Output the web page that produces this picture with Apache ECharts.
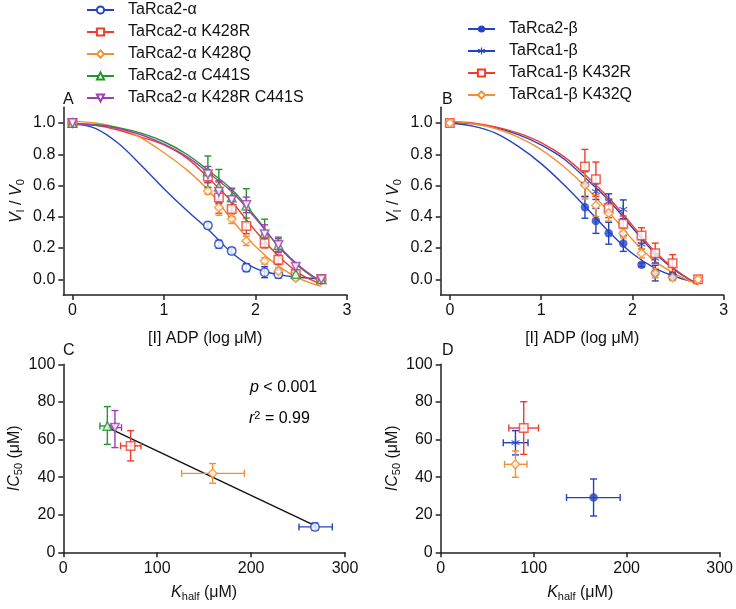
<!DOCTYPE html>
<html><head><meta charset="utf-8">
<script src="https://cdn.jsdelivr.net/npm/echarts@6/dist/echarts.min.js"></script>
<style>html,body{margin:0;padding:0;background:#fff}#c{width:736px;height:609px}</style>
</head><body><div id="c"></div>
<script>
// ---------------- data ----------------
const xTicksAB = [0, 1, 2, 3];
const yTicksAB = [0, 0.2, 0.4, 0.6, 0.8, 1.0];
const logADP = [0, 1.48, 1.6, 1.74, 1.9, 2.1, 2.25, 2.44, 2.72];

// Panel A (TaRca2-alpha variants): mean and SE
const aWT      = [1.0, 0.344, 0.225, 0.182, 0.075, 0.046, 0.033, 0.02, 0.0];
const aWTErr   = [0, 0.02, 0.025, 0.02, 0.025, 0.035, 0.025, 0.01, 0.01];
const aK428R   = [1.0, 0.657, 0.523, 0.45, 0.342, 0.231, 0.125, 0.035, 0.0];
const aK428RErr= [0, 0.04, 0.1, 0.05, 0.05, 0.03, 0.03, 0.01, 0.01];
const aK428Q   = [1.0, 0.565, 0.46, 0.387, 0.246, 0.118, 0.054, 0.008, 0.0];
const aK428QErr= [0, 0.02, 0.05, 0.03, 0.03, 0.02, 0.02, 0.01, 0.01];
const aC441S   = [1.0, 0.689, 0.593, 0.523, 0.47, 0.295, 0.22, 0.035, 0.0];
const aC441SErr= [0, 0.1, 0.11, 0.06, 0.11, 0.09, 0.04, 0.02, 0.01];
const aRS      = [1.0, 0.672, 0.56, 0.508, 0.476, 0.289, 0.22, 0.08, 0.0];
const aRSErr   = [0, 0.05, 0.07, 0.07, 0.05, 0.06, 0.05, 0.02, 0.01];

// Panel B (beta isoforms)
const b2WT     = [1.0, 0.461, 0.374, 0.295, 0.229, 0.093, 0.04, 0.02, 0.0];
const b2WTErr  = [0, 0.07, 0.08, 0.07, 0.05, 0.012, 0.05, 0.02, 0.01];
const b1WT     = [1.0, 0.608, 0.561, 0.497, 0.448, 0.225, 0.135, 0.02, 0.0];
const b1WTErr  = [0, 0.08, 0.05, 0.05, 0.06, 0.03, 0.03, 0.02, 0.01];
const b1K432R  = [1.0, 0.721, 0.64, 0.455, 0.355, 0.28, 0.167, 0.103, 0.0];
const b1K432RErr=[0, 0.11, 0.11, 0.06, 0.05, 0.05, 0.065, 0.055, 0.02];
const b1K432Q  = [1.0, 0.604, 0.472, 0.423, 0.295, 0.167, 0.04, 0.012, 0.0];
const b1K432QErr=[0, 0.09, 0.07, 0.05, 0.03, 0.03, 0.03, 0.02, 0.01];

// fitted curves
const curveX   = [0, 0.25, 0.5, 0.75, 1.0, 1.25, 1.5, 1.75, 2.0, 2.25, 2.5, 2.72];
const aWTFit   = [1.0, 0.965, 0.87, 0.73, 0.58, 0.44, 0.31, 0.165, 0.07, 0.03, 0.012, 0.004];
const aK428RFit= [0.995, 0.985, 0.955, 0.91, 0.86, 0.775, 0.64, 0.49, 0.31, 0.15, 0.03, -0.03];
const aK428QFit= [1.01, 1.0, 0.97, 0.905, 0.81, 0.70, 0.56, 0.375, 0.21, 0.085, 0.0, -0.045];
const aC441SFit= [0.995, 0.99, 0.97, 0.935, 0.88, 0.80, 0.69, 0.57, 0.40, 0.21, 0.07, -0.02];
const aRSFit   = [0.99, 0.985, 0.965, 0.925, 0.865, 0.785, 0.675, 0.555, 0.39, 0.215, 0.075, -0.015];
const b2WTFit  = [1.0, 0.98, 0.935, 0.85, 0.74, 0.605, 0.455, 0.30, 0.165, 0.07, 0.012, -0.02];
const b1WTFit  = [1.005, 0.995, 0.97, 0.925, 0.86, 0.77, 0.64, 0.50, 0.33, 0.165, 0.045, -0.03];
const b1K432RFit=[1.01, 1.0, 0.975, 0.935, 0.875, 0.785, 0.66, 0.515, 0.345, 0.175, 0.05, -0.035];
const b1K432QFit=[1.01, 0.995, 0.965, 0.91, 0.83, 0.72, 0.585, 0.425, 0.255, 0.115, 0.025, -0.035];

// Panel C (order: WT, K428R, K428Q, C441S, K428R C441S)
const cKhalf   = [268, 71.7, 159, 46.9, 55];
const cKhalfLo = [251, 61, 126, 39, 49.7];
const cKhalfHi = [286.5, 82.7, 192.8, 55, 62];
const cIC50    = [13.5, 56.6, 42, 67.2, 66.3];
const cIC50Lo  = [11.7, 48.6, 36.7, 57.4, 55.7];
const cIC50Hi  = [15.6, 64.7, 47.2, 77.5, 75.4];
const regX = [46.9, 268];
const regY = [66.5, 14.2];

// Panel D (order: TaRca2-beta, TaRca1-beta, K432R, K432Q)
const dKhalf   = [164.4, 80.4, 89.3, 80.4];
const dKhalfLo = [135.3, 67.3, 73.3, 68.7];
const dKhalfHi = [193, 93.9, 105.2, 92.8];
const dIC50    = [29.1, 58.3, 66.1, 46.8];
const dIC50Lo  = [19.3, 51.8, 52.1, 39.9];
const dIC50Hi  = [39, 64.7, 80.1, 53.9];

const alphaNames = ['TaRca2-α', 'TaRca2-α K428R', 'TaRca2-α K428Q', 'TaRca2-α C441S', 'TaRca2-α K428R C441S'];
const betaNames  = ['TaRca2-β', 'TaRca1-β', 'TaRca1-β K432R', 'TaRca1-β K432Q'];

// ---------------- styling ----------------
const FF = '"Liberation Sans", Arial, Helvetica, sans-serif';
const FS = 16;
const BLUE = '#2443c4', RED = '#ee3d2c', ORANGE = '#f39132', GREEN = '#23952d', PURPLE = '#a03cb4';
const STAR = 'path://M8.5 0L11.5 0L11.5 20L8.5 20Z M17.91 16.3L19.41 13.7L2.09 3.7L0.59 6.3Z M0.59 13.7L2.09 16.3L19.41 6.3L17.91 3.7Z';
const alphaStyle = [
  {c: BLUE, sym: 'circle', rot: 0, empty: true},
  {c: RED, sym: 'rect', rot: 0, empty: true},
  {c: ORANGE, sym: 'diamond', rot: 0, empty: true},
  {c: GREEN, sym: 'triangle', rot: 0, empty: true},
  {c: PURPLE, sym: 'triangle', rot: 180, empty: true}
];
const betaStyle = [
  {c: BLUE, sym: 'circle', rot: 0, empty: false},
  {c: BLUE, sym: STAR, rot: 0, empty: false},
  {c: RED, sym: 'rect', rot: 0, empty: true},
  {c: ORANGE, sym: 'diamond', rot: 0, empty: true}
];

function axisBase() {
  return {
    type: 'value',
    axisLine: {show: true, onZero: false, lineStyle: {color: '#222', width: 1.5}},
    axisTick: {show: true, inside: false, length: 5, lineStyle: {color: '#222', width: 1.5}},
    axisLabel: {color: '#111', fontSize: FS, fontFamily: FF, margin: 8},
    splitLine: {show: false},
    nameTextStyle: {color: '#111', fontSize: FS, fontFamily: FF},
    nameLocation: 'middle'
  };
}
const richBase = {
  n: {fontSize: FS, fontFamily: FF, color: '#111'},
  i: {fontSize: FS, fontFamily: FF, color: '#111', fontStyle: 'italic'},
  s: {fontSize: 11, fontFamily: FF, color: '#111', verticalAlign: 'bottom', padding: [9, 0, 0, 0]},
  sup: {fontSize: 11, fontFamily: FF, color: '#111', verticalAlign: 'top', padding: [0, 0, 7, 0]}
};

function xAB(gi) {
  const a = axisBase();
  Object.assign(a, {gridIndex: gi, min: -0.1, max: 3, name: '[I] ADP (log μM)', nameGap: 36});
  a.axisTick.customValues = xTicksAB;
  a.axisLabel.customValues = xTicksAB;
  return a;
}
function yAB(gi) {
  const a = axisBase();
  Object.assign(a, {gridIndex: gi, min: -0.1, max: 1.1, name: '{i|V}{s|I}{n| / }{i|V}{s|0}', nameGap: 37});
  a.nameTextStyle.rich = richBase;
  a.axisTick.customValues = yTicksAB;
  a.axisLabel.customValues = yTicksAB;
  a.axisLabel.formatter = v => v.toFixed(1);
  return a;
}
function xCD(gi) {
  const a = axisBase();
  Object.assign(a, {gridIndex: gi, min: 0, max: 300, interval: 100, name: '{i|K}{s|half}{n| (μM)}', nameGap: 30});
  a.nameTextStyle.rich = richBase;
  return a;
}
function yCD(gi) {
  const a = axisBase();
  Object.assign(a, {gridIndex: gi, min: 0, max: 100, interval: 20, name: '{i|IC}{s|50}{n| (μM)}', nameGap: 37});
  a.nameTextStyle.rich = richBase;
  return a;
}

function fitSeries(name, xs, ys, st, gi) {
  return {
    type: 'line', name, xAxisIndex: gi, yAxisIndex: gi,
    data: xs.map((x, i) => [x, ys[i]]), smooth: 0.35, showSymbol: false,
    symbol: (st.empty ? 'empty' + st.sym[0].toUpperCase() + st.sym.slice(1) : st.sym),
    symbolRotate: st.rot, lineStyle: {color: st.c, width: 1.4}, itemStyle: {color: st.c},
    silent: true, z: 2, animation: false
  };
}
function ptSeries(xs, ys, st, gi, size) {
  return {
    type: 'scatter', xAxisIndex: gi, yAxisIndex: gi,
    data: xs.map((x, i) => [x, ys[i]]),
    symbol: st.sym, symbolRotate: st.rot, symbolSize: size || 8.5,
    itemStyle: st.empty ? {color: '#fff', borderColor: st.c, borderWidth: 1.5} : {color: st.c},
    silent: true, z: 4, animation: false
  };
}
function yErrSeries(xs, ys, errs, color, gi) {
  return {
    type: 'custom', xAxisIndex: gi, yAxisIndex: gi, silent: true, z: 3, animation: false,
    data: xs.map((x, i) => [x, ys[i] - errs[i], ys[i] + errs[i]]),
    encode: {x: 0, y: [1, 2]},
    renderItem(params, api) {
      const x = api.value(0);
      const a = api.coord([x, api.value(1)]), b = api.coord([x, api.value(2)]);
      const c = 3.5, st = {stroke: color, lineWidth: 1.4};
      return {type: 'group', children: [
        {type: 'line', shape: {x1: a[0], y1: a[1], x2: b[0], y2: b[1]}, style: st},
        {type: 'line', shape: {x1: a[0] - c, y1: a[1], x2: a[0] + c, y2: a[1]}, style: st},
        {type: 'line', shape: {x1: b[0] - c, y1: b[1], x2: b[0] + c, y2: b[1]}, style: st}
      ]};
    }
  };
}
function xyErrSeries(x, y, xlo, xhi, ylo, yhi, color, gi) {
  return {
    type: 'custom', xAxisIndex: gi, yAxisIndex: gi, silent: true, z: 3, animation: false,
    data: [[x, y, xlo, xhi, ylo, yhi]],
    encode: {x: [0, 2, 3], y: [1, 4, 5]},
    renderItem(params, api) {
      const cx = api.value(0), cy = api.value(1);
      const l = api.coord([api.value(2), cy]), r = api.coord([api.value(3), cy]);
      const b = api.coord([cx, api.value(4)]), t = api.coord([cx, api.value(5)]);
      const c = 3.5, st = {stroke: color, lineWidth: 1.4};
      return {type: 'group', children: [
        {type: 'line', shape: {x1: l[0], y1: l[1], x2: r[0], y2: r[1]}, style: st},
        {type: 'line', shape: {x1: l[0], y1: l[1] - c, x2: l[0], y2: l[1] + c}, style: st},
        {type: 'line', shape: {x1: r[0], y1: r[1] - c, x2: r[0], y2: r[1] + c}, style: st},
        {type: 'line', shape: {x1: b[0], y1: b[1], x2: t[0], y2: t[1]}, style: st},
        {type: 'line', shape: {x1: b[0] - c, y1: b[1], x2: b[0] + c, y2: b[1]}, style: st},
        {type: 'line', shape: {x1: t[0] - c, y1: t[1], x2: t[0] + c, y2: t[1]}, style: st}
      ]};
    }
  };
}

const series = [];
const aY = [aWT, aK428R, aK428Q, aC441S, aRS];
const aE = [aWTErr, aK428RErr, aK428QErr, aC441SErr, aRSErr];
const aF = [aWTFit, aK428RFit, aK428QFit, aC441SFit, aRSFit];
alphaNames.forEach((n, k) => series.push(fitSeries(n, curveX, aF[k], alphaStyle[k], 0)));
alphaNames.forEach((n, k) => {
  series.push(yErrSeries(logADP, aY[k], aE[k], alphaStyle[k].c, 0));
  series.push(ptSeries(logADP, aY[k], alphaStyle[k], 0));
});
const bY = [b2WT, b1WT, b1K432R, b1K432Q];
const bE = [b2WTErr, b1WTErr, b1K432RErr, b1K432QErr];
const bF = [b2WTFit, b1WTFit, b1K432RFit, b1K432QFit];
betaNames.forEach((n, k) => series.push(fitSeries(n, curveX, bF[k], betaStyle[k], 1)));
betaNames.forEach((n, k) => {
  series.push(yErrSeries(logADP, bY[k], bE[k], betaStyle[k].c, 1));
  series.push(ptSeries(logADP, bY[k], betaStyle[k], 1));
});
// Panel C
series.push({type: 'line', xAxisIndex: 2, yAxisIndex: 2, data: regX.map((x, i) => [x, regY[i]]),
  showSymbol: false, lineStyle: {color: '#111', width: 1.4}, silent: true, z: 2, animation: false});
alphaNames.forEach((n, k) => {
  series.push(xyErrSeries(cKhalf[k], cIC50[k], cKhalfLo[k], cKhalfHi[k], cIC50Lo[k], cIC50Hi[k], alphaStyle[k].c, 2));
  series.push(ptSeries([cKhalf[k]], [cIC50[k]], alphaStyle[k], 2));
});
// Panel D
betaNames.forEach((n, k) => {
  series.push(xyErrSeries(dKhalf[k], dIC50[k], dKhalfLo[k], dKhalfHi[k], dIC50Lo[k], dIC50Hi[k], betaStyle[k].c, 3));
  series.push(ptSeries([dKhalf[k]], [dIC50[k]], betaStyle[k], 3));
});

function legendCfg(names, left, top) {
  return {
    data: names, orient: 'vertical', left, top, padding: 0, itemWidth: 27, itemHeight: 9, itemGap: 6,
    selectedMode: false,
    textStyle: {fontSize: FS, fontFamily: FF, color: '#111', padding: [0, 0, 0, 9]}
  };
}
function label(t, x, y) {
  return {type: 'text', left: x, top: y, style: {text: t, font: FS + 'px ' + FF, fill: '#111'}};
}

const option = {
  backgroundColor: '#fff',
  animation: false,
  textStyle: {fontFamily: FF},
  grid: [
    {left: 63.3, top: 107.35, width: 283.7, height: 187.65},
    {left: 440.7, top: 107.35, width: 283, height: 187.65},
    {left: 63.3, top: 364.3, width: 281.7, height: 188},
    {left: 440.7, top: 364.3, width: 282.3, height: 188}
  ],
  xAxis: [xAB(0), xAB(1), xCD(2), xCD(3)],
  yAxis: [yAB(0), yAB(1), yCD(2), yCD(3)],
  legend: [legendCfg(alphaNames, 86, 2), legendCfg(betaNames, 467, 21)],
  graphic: [
    label('A', 63, 92), label('B', 442, 92), label('C', 63, 343), label('D', 442, 343),
    {type: 'text', left: 250, top: 380, style: {text: '{i|p}{n| < 0.001}', rich: richBase}},
    {type: 'text', left: 249, top: 410, style: {text: '{i|r}{sup|2}{n| = 0.99}', rich: richBase}}
  ],
  series
};
const chart = echarts.init(document.getElementById('c'), null, {renderer: 'canvas'});
chart.setOption(option);
</script>
</body></html>
